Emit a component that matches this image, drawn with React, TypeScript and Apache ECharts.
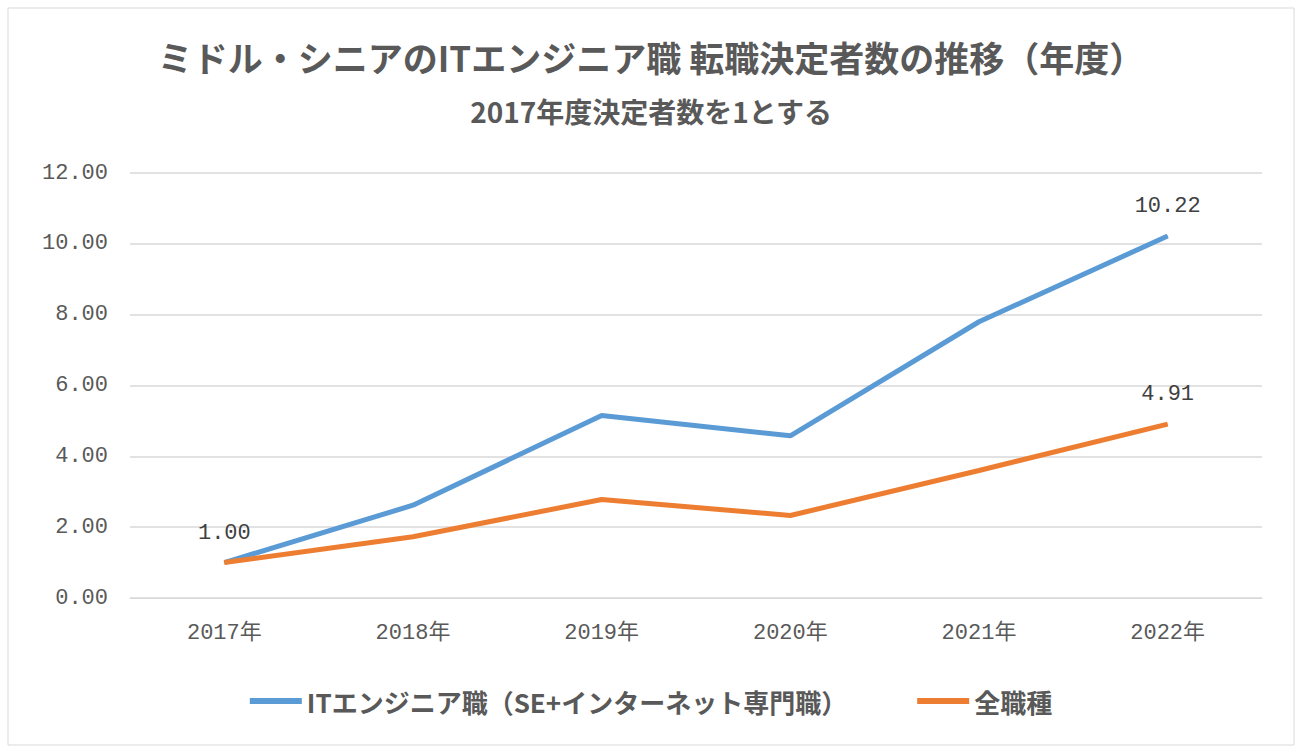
import { useEffect, useRef } from 'react'
import * as echarts from 'echarts'

const years = ['2017年', '2018年', '2019年', '2020年', '2021年', '2022年']
const itSeries = [1.0, 2.62, 5.15, 4.58, 7.8, 10.22]
const allSeries = [1.0, 1.73, 2.78, 2.33, 3.6, 4.91]

const mono = "'Liberation Mono', 'DejaVu Sans Mono', 'Noto Sans CJK JP', monospace"
const sans = "'Noto Sans CJK JP', sans-serif"

function withLabels(values: number[], show: boolean[]) {
  return values.map((v, i) => ({
    value: v,
    label: { show: show[i] },
  }))
}

export default function App() {
  const chartRef = useRef<HTMLDivElement>(null)

  useEffect(() => {
    document.body.style.margin = '0'
    if (!chartRef.current) return
    const chart = echarts.init(chartRef.current, null, { renderer: 'svg' })
    const labelStyle = {
      show: false,
      position: 'top',
      distance: 18,
      fontFamily: mono,
      fontSize: 22,
      color: '#404040',
      formatter: (p: any) => p.value.toFixed(2),
    }
    chart.setOption({
      animation: false,
      backgroundColor: '#fff',
      title: [
        {
          text: 'ミドル・シニアのITエンジニア職 転職決定者数の推移（年度）',
          left: 'center',
          top: 34,
          textStyle: { fontFamily: sans, fontSize: 35, fontWeight: 'bold', color: '#595959' },
        },
        {
          text: '2017年度決定者数を1とする',
          left: 'center',
          top: 92,
          textStyle: { fontFamily: sans, fontSize: 28, fontWeight: 'bold', color: '#595959' },
        },
      ],
      graphic: [
        {
          type: 'rect',
          shape: { x: 8, y: 8, width: 1286, height: 737 },
          style: { fill: 'none', stroke: '#d9d9d9', lineWidth: 1 },
        },
      ],
      grid: { left: 130, right: 40, top: 173, bottom: 157 },
      legend: {
        bottom: 36,
        left: 'center',
        itemWidth: 52,
        itemHeight: 6,
        itemGap: 70,
        icon: 'rect',
        textStyle: { fontFamily: sans, fontSize: 26, fontWeight: 'bold', color: '#595959' },
      },
      xAxis: {
        type: 'category',
        data: years,
        axisLine: { lineStyle: { color: '#d9d9d9' } },
        axisTick: { show: false },
        axisLabel: { fontFamily: mono, fontSize: 22, color: '#595959', margin: 24 },
      },
      yAxis: {
        type: 'value',
        min: 0,
        max: 12,
        interval: 2,
        axisLabel: {
          fontFamily: mono,
          fontSize: 22,
          color: '#595959',
          margin: 22,
          formatter: (v: number) => v.toFixed(2),
        },
        splitLine: { lineStyle: { color: '#d9d9d9', width: 1.5 } },
      },
      series: [
        {
          name: 'ITエンジニア職（SE+インターネット専門職）',
          type: 'line',
          data: withLabels(itSeries, [true, false, false, false, false, true]),
          symbol: 'circle',
          symbolSize: 1,
          lineStyle: { color: '#5B9BD5', width: 5 },
          itemStyle: { color: '#5B9BD5' },
          label: labelStyle,
        },
        {
          name: '全職種',
          type: 'line',
          data: withLabels(allSeries, [false, false, false, false, false, true]),
          symbol: 'circle',
          symbolSize: 1,
          lineStyle: { color: '#ED7D31', width: 5 },
          itemStyle: { color: '#ED7D31' },
          label: labelStyle,
        },
      ],
    })
    return () => chart.dispose()
  }, [])

  return <div ref={chartRef} style={{ width: 1302, height: 755 }} />
}
